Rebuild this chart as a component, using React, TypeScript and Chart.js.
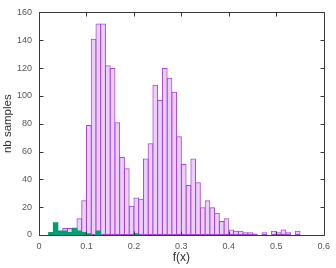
import React, { useEffect, useRef } from "react";
import { Chart, registerables } from "chart.js";

Chart.register(...registerables);

// Histogram bins of width 0.01 starting at 0.00
const binWidth = 0.01;
const allCounts = [
  0, 0, 0, 0, 0, 5, 5, 5, 12, 25,
  79, 141, 152, 152, 122, 120, 81, 56, 48, 21,
  27, 26, 55, 66, 108, 97, 120, 113, 103, 71,
  51, 36, 55, 38, 20, 25, 20, 16, 10, 12,
  4, 3, 3, 2, 2, 1, 0, 2, 0, 3,
  2, 4, 2, 0, 3, 0, 0, 0, 0, 0,
];
const subsetCounts = [
  0, 0, 2, 9, 3, 3, 2, 5, 3, 2,
  1, 0, 3, 0, 0, 0, 0, 0, 0, 0,
  1, 0, 0, 0, 0, 0, 0, 0, 0, 0,
  0, 0, 0, 0, 0, 0, 0, 0, 0, 0,
  0, 0, 0, 0, 0, 0, 0, 0, 0, 0,
  0, 0, 0, 0, 0, 0, 0, 0, 0, 0,
];
const xTicks = [0, 0.1, 0.2, 0.3, 0.4, 0.5, 0.6];
const yTicks = [0, 20, 40, 60, 80, 100, 120, 140, 160];

const toPoints = (arr: number[]) =>
  arr.map((v, i) => ({ x: i * binWidth + binWidth / 2, y: v === 0 ? null : v }));

const frameColor = "#3a3a3a";
const fontFamily = "'Liberation Sans', Arial, sans-serif";

const framePlugin = {
  id: "frame",
  afterDraw(chart: any) {
    const { ctx, chartArea } = chart;
    const { left, right, top, bottom } = chartArea;
    const xs = chart.scales.x;
    const ys = chart.scales.y;
    ctx.save();
    ctx.strokeStyle = frameColor;
    ctx.lineWidth = 1;
    ctx.beginPath();
    const L = Math.round(left) + 0.5;
    const R = Math.round(right) + 0.5;
    const T = Math.round(top) + 0.5;
    const B = Math.round(bottom) + 0.5;
    ctx.rect(L, T, R - L, B - T);
    const tl = 4;
    xTicks.forEach((v) => {
      const px = Math.round(xs.getPixelForValue(v)) + 0.5;
      ctx.moveTo(px, B);
      ctx.lineTo(px, B - tl);
      ctx.moveTo(px, T);
      ctx.lineTo(px, T + tl);
    });
    yTicks.forEach((v) => {
      const py = Math.round(ys.getPixelForValue(v)) + 0.5;
      ctx.moveTo(L, py);
      ctx.lineTo(L + tl, py);
      ctx.moveTo(R, py);
      ctx.lineTo(R - tl, py);
    });
    ctx.stroke();
    ctx.restore();
  },
};

export default function App() {
  const ref = useRef<HTMLCanvasElement | null>(null);
  useEffect(() => {
    if (!ref.current) return;
    const chart = new Chart(ref.current, {
      type: "bar",
      data: {
        datasets: [
          {
            label: "subset",
            data: toPoints(subsetCounts) as any,
            backgroundColor: "#009e73",
            borderColor: "#009e73",
            borderWidth: 0,
            grouped: false,
            barPercentage: 1,
            categoryPercentage: 1,
          } as any,
          {
            label: "all",
            data: toPoints(allCounts) as any,
            backgroundColor: "rgba(148,0,211,0.19)",
            borderColor: "#a645d8",
            borderWidth: 1,
            borderSkipped: false,
            grouped: false,
            barPercentage: 1.2,
            categoryPercentage: 1,
          } as any,
        ],
      },
      options: {
        animation: false,
        responsive: false,
        layout: { padding: { top: 11, right: 8, left: 0, bottom: 0 } },
        plugins: { legend: { display: false }, tooltip: { enabled: false } },
        scales: {
          x: {
            type: "linear",
            min: 0,
            max: 0.6,
            offset: false,
            grid: { display: false, drawTicks: false, offset: false },
            border: { display: false },
            afterBuildTicks: (s: any) => {
              s.ticks = xTicks.map((v) => ({ value: v }));
            },
            afterFit: (s: any) => {
              s.height = 33;
            },
            ticks: {
              padding: 6,
              color: "#555",
              font: { family: fontFamily, size: 9 },
              maxRotation: 0,
              callback: (v: any) => String(Number(Number(v).toFixed(1))),
            },
            title: {
              display: true,
              text: "f(x)",
              color: "#333",
              font: { family: fontFamily, size: 12 },
              padding: { top: 0, bottom: 3 },
            },
          },
          y: {
            type: "linear",
            min: 0,
            max: 160,
            grid: { display: false, drawTicks: false },
            border: { display: false },
            afterBuildTicks: (s: any) => {
              s.ticks = yTicks.map((v) => ({ value: v }));
            },
            afterFit: (s: any) => {
              s.width = 39;
            },
            ticks: {
              padding: 7,
              color: "#555",
              font: { family: fontFamily, size: 9 },
            },
            title: {
              display: true,
              text: "nb samples",
              color: "#333",
              font: { family: fontFamily, size: 11.5 },
              padding: { top: 1, bottom: 0 },
            },
          },
        },
      },
      plugins: [framePlugin],
    });
    return () => chart.destroy();
  }, []);
  return (
    <div style={{ position: "absolute", left: 0, top: 0, width: 336, height: 268, background: "#fff" }}>
      <canvas ref={ref} width={336} height={268} />
    </div>
  );
}
